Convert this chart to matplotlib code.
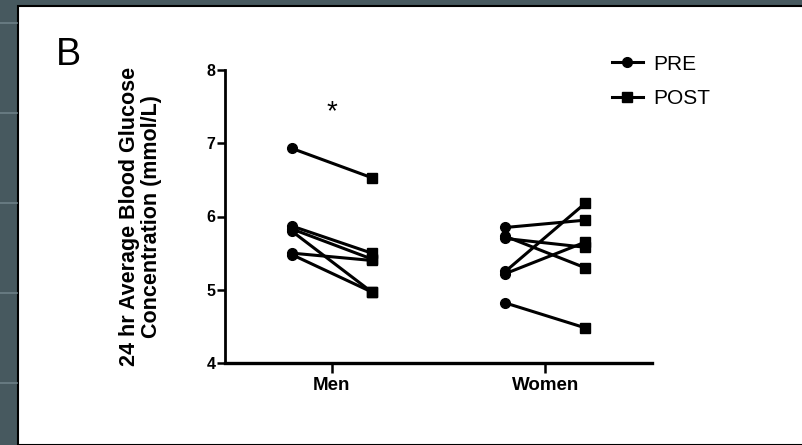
import matplotlib.pyplot as plt
from matplotlib.patches import Rectangle
from matplotlib.lines import Line2D

# dados (glicose média 24 h, mmol/L)
grupos = ["Men", "Women"]
homens_pre = [6.93, 5.87, 5.83, 5.80, 5.50, 5.48]
homens_pos = [6.53, 5.50, 5.42, 4.97, 5.40, 4.97]
mulheres_pre = [5.85, 5.73, 5.70, 5.25, 5.22, 4.82]
mulheres_pos = [5.95, 5.30, 5.58, 6.18, 5.65, 4.48]
rotulos_y = [4, 5, 6, 7, 8]

plt.rcParams["font.family"] = ["Liberation Sans", "DejaVu Sans"]

fig = plt.figure(figsize=(8.02, 4.45), dpi=100)
fig.patch.set_facecolor("#47595f")

# painel branco do slide
fundo = Rectangle((18 / 802, 0), 1, 1 - 6 / 445, transform=fig.transFigure,
                  facecolor="white", edgecolor="black", linewidth=1.5, zorder=-5)
fig.add_artist(fundo)
# linhas claras na faixa da esquerda
for yy in [23, 113, 203, 293, 383]:
    fig.add_artist(Line2D([0, 17 / 802], [1 - yy / 445] * 2, transform=fig.transFigure,
                          color="#6d8087", linewidth=1.2, zorder=-4))

ax = fig.add_axes([225 / 802, 1 - 363 / 445, (652 - 225) / 802, (363 - 70) / 445])
ax.set_zorder(2)
ax.patch.set_alpha(0)

desloc = 0.187
for i, (pre, pos) in enumerate([(homens_pre, homens_pos), (mulheres_pre, mulheres_pos)]):
    x = i + 1
    for a, b in zip(pre, pos):
        ax.plot([x - desloc, x + desloc], [a, b], color="black", linewidth=2.2, zorder=2)
    ax.plot([x - desloc] * len(pre), pre, "o", color="black", markersize=7, zorder=3)
    ax.plot([x + desloc] * len(pos), pos, "s", color="black", markersize=6.5, zorder=3)

ax.text(1, 7.42, "*", ha="center", va="center", fontsize=20)

ax.set_xlim(0.5, 2.5)
ax.set_ylim(4, 8)
ax.set_yticks(rotulos_y)
ax.set_xticks([1, 2])
ax.set_xticklabels(grupos, fontsize=13.5, fontweight="bold")
ax.set_yticklabels([str(v) for v in rotulos_y], fontsize=11.5, fontweight="bold")
ax.tick_params(axis="y", width=1.8, length=6, pad=1)
ax.tick_params(axis="x", width=1.8, length=7, pad=3)
for s in ["top", "right"]:
    ax.spines[s].set_visible(False)
ax.spines["left"].set_linewidth(2.0)
ax.spines["bottom"].set_linewidth(2.4)

ax.set_ylabel("24 hr Average Blood Glucose\nConcentration (mmol/L)",
              fontsize=15.5, fontweight="bold", linespacing=1.05)
ax.yaxis.set_label_coords(-0.148, 0.5)

fig.text(56 / 802, 1 - 55 / 445, "B", fontsize=27, va="center", ha="left")

pre_h = Line2D([], [], color="black", marker="o", markersize=7, linewidth=2.2)
pos_h = Line2D([], [], color="black", marker="s", markersize=6.5, linewidth=2.2)
fig.legend([pre_h, pos_h], ["PRE", "POST"], loc="upper left",
           bbox_to_anchor=(593 / 802, 1 - 36 / 445), frameon=False, fontsize=15,
           handlelength=1.5, handletextpad=0.5, labelspacing=0.75)

fig.savefig("out.png", dpi=100, facecolor=fig.get_facecolor())
